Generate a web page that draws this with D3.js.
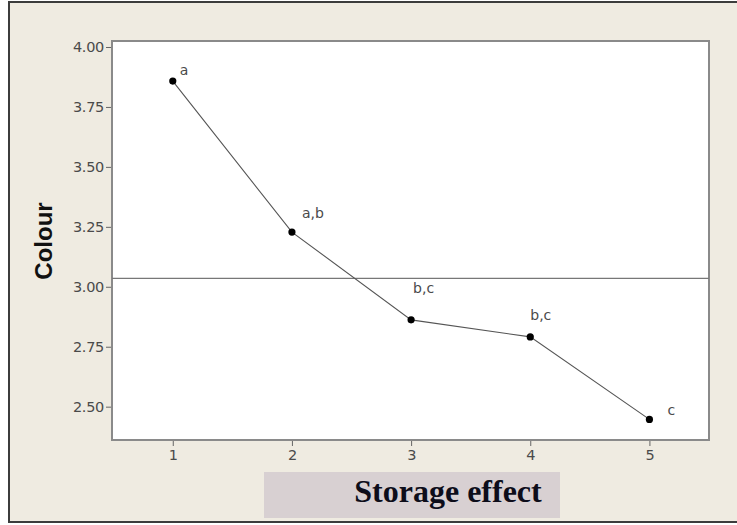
<!DOCTYPE html>
<html>
<head>
<meta charset="utf-8">
<script src="https://cdn.jsdelivr.net/npm/d3@7"></script>
<style>
  html, body { margin: 0; padding: 0; background: #fff; }
  svg { display: block; }
</style>
</head>
<body>
<svg id="chart" width="737" height="525"></svg>
<script>
// storage period vs. mean colour score
const storage = [1, 2, 3, 4, 5];
const colour = [3.858, 3.228, 2.862, 2.791, 2.447];
const groups = ['a', 'a,b', 'b,c', 'b,c', 'c'];
const yTicks = [2.50, 2.75, 3.00, 3.25, 3.50, 3.75, 4.00];
const meanLine = 3.035;

// where each letter sits relative to its point
const labelOffsets = [[7, -6], [10, -14], [2, -27], [0, -17], [18, -4]];

const svg = d3.select('#chart');
const plot = { left: 112, top: 41, right: 709, bottom: 440 };

const x = d3.scaleLinear().domain([0.49, 5.5]).range([plot.left, plot.right]);
const y = d3.scaleLinear().domain([2.361, 4.025]).range([plot.bottom, plot.top]);

// outer panel
svg.append('rect')
  .attr('x', 9).attr('y', 2).attr('width', 760).attr('height', 520)
  .attr('fill', '#efebe1').attr('stroke', '#3c3c3c').attr('stroke-width', 2);

// plot area
svg.append('rect')
  .attr('x', plot.left).attr('y', plot.top)
  .attr('width', plot.right - plot.left).attr('height', plot.bottom - plot.top)
  .attr('fill', '#fff').attr('stroke', '#8a8a8a').attr('stroke-width', 2);

const yAxis = d3.axisLeft(y).tickValues(yTicks).tickFormat(d3.format('.2f'))
  .tickSize(5).tickPadding(2);
const xAxis = d3.axisBottom(x).tickValues(storage).tickFormat(d3.format('d'))
  .tickSize(5).tickPadding(4);

function styleAxis(g) {
  g.attr('font-size', null).attr('font-family', null);
  g.select('.domain').remove();
  g.selectAll('.tick line').attr('stroke', '#666');
  g.selectAll('.tick text')
    .attr('fill', '#4a4a4a')
    .attr('font-family', '"DejaVu Sans", sans-serif')
    .attr('font-size', 14.5)
    .attr('letter-spacing', -0.3);
}

svg.append('g').attr('transform', `translate(${plot.left - 1},0)`).call(yAxis).call(styleAxis);
svg.append('g').attr('transform', `translate(0,${plot.bottom + 1})`).call(xAxis).call(styleAxis);

// reference line at the overall mean
svg.append('line')
  .attr('x1', plot.left).attr('x2', plot.right)
  .attr('y1', y(meanLine)).attr('y2', y(meanLine))
  .attr('stroke', '#777').attr('stroke-width', 1.3);

const pts = storage.map((s, i) => ({ s, v: colour[i], g: groups[i], off: labelOffsets[i] }));

svg.append('path')
  .datum(pts)
  .attr('fill', 'none')
  .attr('stroke', '#555')
  .attr('stroke-width', 1.1)
  .attr('d', d3.line().x(d => x(d.s)).y(d => y(d.v)));

svg.selectAll('circle.pt')
  .data(pts)
  .join('circle')
  .attr('class', 'pt')
  .attr('cx', d => x(d.s)).attr('cy', d => y(d.v))
  .attr('r', 3.6).attr('fill', '#000');

svg.selectAll('text.grp')
  .data(pts)
  .join('text')
  .attr('class', 'grp')
  .attr('x', d => x(d.s) + d.off[0])
  .attr('y', d => y(d.v) + d.off[1])
  .attr('fill', '#4a4a4a')
  .attr('font-family', '"DejaVu Sans", sans-serif')
  .attr('font-size', 14)
  .text(d => d.g);

// axis titles
svg.append('text')
  .attr('transform', 'translate(52,241) rotate(-90)')
  .attr('text-anchor', 'middle')
  .attr('fill', '#111')
  .attr('font-family', '"Liberation Sans", Arial, sans-serif')
  .attr('font-weight', 'bold')
  .attr('font-size', 24)
  .text('Colour');

svg.append('rect')
  .attr('x', 264).attr('y', 472).attr('width', 296).attr('height', 46)
  .attr('fill', '#d8d0d2');

svg.append('text')
  .attr('x', 448).attr('y', 502)
  .attr('text-anchor', 'middle')
  .attr('fill', '#0d0d1a')
  .attr('font-family', '"Liberation Serif", "Times New Roman", serif')
  .attr('font-weight', 'bold')
  .attr('font-size', 32)
  .text('Storage effect');
</script>
</body>
</html>
